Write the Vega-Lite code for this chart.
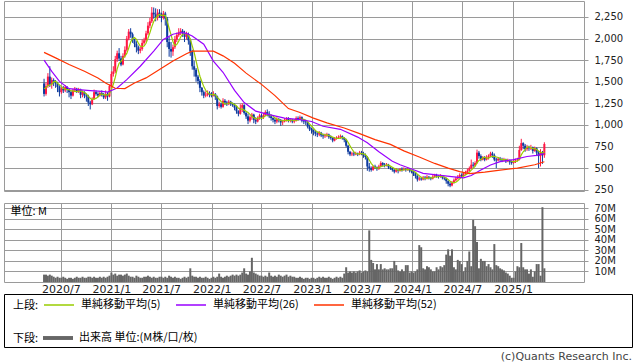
{
"$schema":"https://vega.github.io/schema/vega-lite/v6.json",
"padding":{"left":3,"top":0,"right":0,"bottom":0},
"bounds":"flush",
"spacing":12,
"datasets":{
"p":[
{"d":"2020-05-01","o":1480,"h":1535,"l":1330,"c":1360,"v":7,"m":1420},
{"d":"2020-05-08","o":1360,"h":1490,"l":1340,"c":1450,"v":7,"m":1430},
{"d":"2020-05-15","o":1450,"h":1600,"l":1430,"c":1560,"v":6,"m":1460},
{"d":"2020-05-22","o":1560,"h":1680,"l":1440,"c":1470,"v":7,"m":1460},
{"d":"2020-05-29","o":1470,"h":1550,"l":1420,"c":1520,"v":6,"m":1472},
{"d":"2020-06-05","o":1520,"h":1540,"l":1450,"c":1500,"v":5,"m":1500},
{"d":"2020-06-12","o":1500,"h":1520,"l":1430,"c":1480,"v":4,"m":1506},
{"d":"2020-06-19","o":1480,"h":1500,"l":1380,"c":1440,"v":5,"m":1482},
{"d":"2020-06-26","o":1440,"h":1460,"l":1330,"c":1380,"v":4,"m":1464},
{"d":"2020-07-03","o":1380,"h":1450,"l":1360,"c":1420,"v":4,"m":1444},
{"d":"2020-07-10","o":1420,"h":1450,"l":1370,"c":1400,"v":5,"m":1424},
{"d":"2020-07-17","o":1400,"h":1460,"l":1380,"c":1440,"v":4,"m":1416},
{"d":"2020-07-24","o":1440,"h":1450,"l":1370,"c":1410,"v":3,"m":1410},
{"d":"2020-07-31","o":1410,"h":1420,"l":1320,"c":1380,"v":4,"m":1410},
{"d":"2020-08-07","o":1380,"h":1400,"l":1300,"c":1340,"v":4,"m":1394},
{"d":"2020-08-14","o":1340,"h":1420,"l":1330,"c":1400,"v":3,"m":1394},
{"d":"2020-08-21","o":1400,"h":1440,"l":1380,"c":1420,"v":4,"m":1390},
{"d":"2020-08-28","o":1420,"h":1430,"l":1370,"c":1390,"v":5,"m":1386},
{"d":"2020-09-04","o":1390,"h":1430,"l":1370,"c":1410,"v":4,"m":1392},
{"d":"2020-09-11","o":1410,"h":1420,"l":1310,"c":1350,"v":4,"m":1394},
{"d":"2020-09-18","o":1350,"h":1400,"l":1320,"c":1380,"v":5,"m":1390},
{"d":"2020-09-25","o":1380,"h":1390,"l":1310,"c":1340,"v":4,"m":1374},
{"d":"2020-10-02","o":1340,"h":1360,"l":1270,"c":1330,"v":4,"m":1362},
{"d":"2020-10-09","o":1330,"h":1350,"l":1220,"c":1260,"v":5,"m":1332},
{"d":"2020-10-16","o":1260,"h":1280,"l":1180,"c":1240,"v":5,"m":1310},
{"d":"2020-10-23","o":1240,"h":1320,"l":1230,"c":1300,"v":4,"m":1294},
{"d":"2020-10-30","o":1300,"h":1410,"l":1290,"c":1380,"v":5,"m":1302},
{"d":"2020-11-06","o":1380,"h":1400,"l":1340,"c":1360,"v":4,"m":1308},
{"d":"2020-11-13","o":1360,"h":1380,"l":1320,"c":1340,"v":4,"m":1324},
{"d":"2020-11-20","o":1340,"h":1390,"l":1330,"c":1370,"v":5,"m":1350},
{"d":"2020-11-27","o":1370,"h":1400,"l":1330,"c":1350,"v":4,"m":1360},
{"d":"2020-12-04","o":1350,"h":1370,"l":1300,"c":1320,"v":5,"m":1348},
{"d":"2020-12-11","o":1320,"h":1400,"l":1300,"c":1360,"v":4,"m":1348},
{"d":"2020-12-18","o":1360,"h":1380,"l":1280,"c":1330,"v":5,"m":1346},
{"d":"2020-12-25","o":1330,"h":1470,"l":1320,"c":1450,"v":6,"m":1362},
{"d":"2021-01-01","o":1450,"h":1620,"l":1430,"c":1590,"v":9,"m":1410},
{"d":"2021-01-08","o":1590,"h":1680,"l":1560,"c":1620,"v":7,"m":1470},
{"d":"2021-01-15","o":1620,"h":1800,"l":1600,"c":1760,"v":8,"m":1550},
{"d":"2021-01-22","o":1760,"h":1860,"l":1730,"c":1830,"v":6,"m":1650},
{"d":"2021-01-29","o":1830,"h":1890,"l":1740,"c":1770,"v":7,"m":1714},
{"d":"2021-02-05","o":1770,"h":1800,"l":1680,"c":1700,"v":7,"m":1736},
{"d":"2021-02-12","o":1700,"h":1830,"l":1690,"c":1800,"v":6,"m":1772},
{"d":"2021-02-19","o":1800,"h":1910,"l":1780,"c":1870,"v":7,"m":1794},
{"d":"2021-02-26","o":1870,"h":2030,"l":1850,"c":2000,"v":8,"m":1828},
{"d":"2021-03-05","o":2000,"h":2110,"l":1980,"c":2080,"v":6,"m":1890},
{"d":"2021-03-12","o":2080,"h":2120,"l":2010,"c":2050,"v":5,"m":1960},
{"d":"2021-03-19","o":2050,"h":2070,"l":1950,"c":1990,"v":5,"m":1998},
{"d":"2021-03-26","o":1990,"h":2000,"l":1900,"c":1940,"v":4,"m":2012},
{"d":"2021-04-02","o":1940,"h":1970,"l":1840,"c":1900,"v":6,"m":1992},
{"d":"2021-04-09","o":1900,"h":1920,"l":1820,"c":1860,"v":5,"m":1948},
{"d":"2021-04-16","o":1860,"h":1910,"l":1830,"c":1880,"v":4,"m":1914},
{"d":"2021-04-23","o":1880,"h":1990,"l":1860,"c":1950,"v":4,"m":1906},
{"d":"2021-04-30","o":1950,"h":2010,"l":1930,"c":1980,"v":5,"m":1914},
{"d":"2021-05-07","o":1980,"h":2090,"l":1960,"c":2060,"v":5,"m":1946},
{"d":"2021-05-14","o":2060,"h":2190,"l":2040,"c":2150,"v":6,"m":2004},
{"d":"2021-05-21","o":2150,"h":2240,"l":2120,"c":2200,"v":5,"m":2068},
{"d":"2021-05-28","o":2200,"h":2365,"l":2180,"c":2300,"v":4,"m":2138},
{"d":"2021-06-04","o":2300,"h":2360,"l":2230,"c":2280,"v":5,"m":2198},
{"d":"2021-06-11","o":2280,"h":2350,"l":2200,"c":2240,"v":4,"m":2234},
{"d":"2021-06-18","o":2240,"h":2340,"l":2210,"c":2300,"v":4,"m":2264},
{"d":"2021-06-25","o":2300,"h":2340,"l":2240,"c":2280,"v":5,"m":2280},
{"d":"2021-07-02","o":2280,"h":2300,"l":2190,"c":2240,"v":5,"m":2268},
{"d":"2021-07-09","o":2240,"h":2320,"l":2220,"c":2290,"v":4,"m":2270},
{"d":"2021-07-16","o":2290,"h":2310,"l":2150,"c":2230,"v":5,"m":2268},
{"d":"2021-07-23","o":2230,"h":2250,"l":1900,"c":1960,"v":4,"m":2200},
{"d":"2021-07-30","o":1960,"h":2020,"l":1790,"c":1880,"v":6,"m":2120},
{"d":"2021-08-06","o":1880,"h":1960,"l":1780,"c":1850,"v":5,"m":2042},
{"d":"2021-08-13","o":1850,"h":1930,"l":1800,"c":1900,"v":4,"m":1964},
{"d":"2021-08-20","o":1900,"h":2030,"l":1880,"c":1990,"v":5,"m":1916},
{"d":"2021-08-27","o":1990,"h":2070,"l":1960,"c":2040,"v":4,"m":1932},
{"d":"2021-09-03","o":2040,"h":2120,"l":2020,"c":2070,"v":4,"m":1970},
{"d":"2021-09-10","o":2070,"h":2120,"l":2040,"c":2090,"v":3,"m":2018},
{"d":"2021-09-17","o":2090,"h":2110,"l":2020,"c":2060,"v":4,"m":2050},
{"d":"2021-09-24","o":2060,"h":2090,"l":1960,"c":2020,"v":5,"m":2056},
{"d":"2021-10-01","o":2020,"h":2080,"l":1990,"c":2050,"v":4,"m":2058},
{"d":"2021-10-08","o":2050,"h":2070,"l":1930,"c":1980,"v":5,"m":2040},
{"d":"2021-10-15","o":1980,"h":2000,"l":1800,"c":1850,"v":13,"m":1992},
{"d":"2021-10-22","o":1850,"h":1870,"l":1640,"c":1680,"v":6,"m":1916},
{"d":"2021-10-29","o":1680,"h":1740,"l":1560,"c":1640,"v":5,"m":1840},
{"d":"2021-11-05","o":1640,"h":1660,"l":1500,"c":1560,"v":5,"m":1742},
{"d":"2021-11-12","o":1560,"h":1580,"l":1470,"c":1510,"v":4,"m":1648},
{"d":"2021-11-19","o":1510,"h":1530,"l":1380,"c":1430,"v":5,"m":1564},
{"d":"2021-11-26","o":1430,"h":1440,"l":1340,"c":1380,"v":4,"m":1504},
{"d":"2021-12-03","o":1380,"h":1400,"l":1310,"c":1340,"v":4,"m":1444},
{"d":"2021-12-10","o":1340,"h":1390,"l":1320,"c":1350,"v":5,"m":1402},
{"d":"2021-12-17","o":1350,"h":1400,"l":1330,"c":1370,"v":4,"m":1374},
{"d":"2021-12-24","o":1370,"h":1390,"l":1320,"c":1350,"v":3,"m":1358},
{"d":"2021-12-31","o":1350,"h":1380,"l":1320,"c":1340,"v":4,"m":1350},
{"d":"2022-01-07","o":1340,"h":1390,"l":1330,"c":1360,"v":5,"m":1354},
{"d":"2022-01-14","o":1360,"h":1370,"l":1290,"c":1330,"v":4,"m":1350},
{"d":"2022-01-21","o":1330,"h":1340,"l":1180,"c":1220,"v":5,"m":1320},
{"d":"2022-01-28","o":1220,"h":1270,"l":1200,"c":1240,"v":8,"m":1298},
{"d":"2022-02-04","o":1240,"h":1260,"l":1190,"c":1210,"v":5,"m":1272},
{"d":"2022-02-11","o":1210,"h":1310,"l":1200,"c":1280,"v":4,"m":1256},
{"d":"2022-02-18","o":1280,"h":1300,"l":1230,"c":1260,"v":5,"m":1242},
{"d":"2022-02-25","o":1260,"h":1280,"l":1220,"c":1240,"v":6,"m":1246},
{"d":"2022-03-04","o":1240,"h":1290,"l":1230,"c":1270,"v":5,"m":1252},
{"d":"2022-03-11","o":1270,"h":1280,"l":1220,"c":1250,"v":6,"m":1260},
{"d":"2022-03-18","o":1250,"h":1260,"l":1210,"c":1230,"v":7,"m":1250},
{"d":"2022-03-25","o":1230,"h":1250,"l":1170,"c":1200,"v":6,"m":1238},
{"d":"2022-04-01","o":1200,"h":1220,"l":1130,"c":1160,"v":7,"m":1222},
{"d":"2022-04-08","o":1160,"h":1170,"l":1100,"c":1130,"v":6,"m":1194},
{"d":"2022-04-15","o":1130,"h":1240,"l":1120,"c":1200,"v":7,"m":1184},
{"d":"2022-04-22","o":1200,"h":1250,"l":1150,"c":1230,"v":9,"m":1184},
{"d":"2022-04-29","o":1230,"h":1240,"l":1120,"c":1140,"v":13,"m":1172},
{"d":"2022-05-06","o":1140,"h":1160,"l":1070,"c":1100,"v":8,"m":1160},
{"d":"2022-05-13","o":1100,"h":1130,"l":1010,"c":1050,"v":7,"m":1144},
{"d":"2022-05-20","o":1050,"h":1110,"l":1030,"c":1090,"v":10,"m":1122},
{"d":"2022-05-27","o":1090,"h":1140,"l":1060,"c":1120,"v":23,"m":1100},
{"d":"2022-06-03","o":1120,"h":1130,"l":1020,"c":1060,"v":9,"m":1084},
{"d":"2022-06-10","o":1060,"h":1090,"l":1010,"c":1040,"v":8,"m":1072},
{"d":"2022-06-17","o":1040,"h":1100,"l":1030,"c":1080,"v":7,"m":1078},
{"d":"2022-06-24","o":1080,"h":1130,"l":1060,"c":1110,"v":6,"m":1082},
{"d":"2022-07-01","o":1110,"h":1130,"l":1060,"c":1090,"v":6,"m":1076},
{"d":"2022-07-08","o":1090,"h":1140,"l":1070,"c":1110,"v":5,"m":1086},
{"d":"2022-07-15","o":1110,"h":1170,"l":1100,"c":1150,"v":6,"m":1108},
{"d":"2022-07-22","o":1150,"h":1180,"l":1100,"c":1130,"v":5,"m":1118},
{"d":"2022-07-29","o":1130,"h":1160,"l":1080,"c":1100,"v":9,"m":1116},
{"d":"2022-08-05","o":1100,"h":1120,"l":1050,"c":1080,"v":6,"m":1114},
{"d":"2022-08-12","o":1080,"h":1090,"l":1030,"c":1060,"v":5,"m":1104},
{"d":"2022-08-19","o":1060,"h":1080,"l":1010,"c":1040,"v":6,"m":1082},
{"d":"2022-08-26","o":1040,"h":1090,"l":1020,"c":1070,"v":5,"m":1070},
{"d":"2022-09-02","o":1070,"h":1080,"l":1030,"c":1060,"v":7,"m":1062},
{"d":"2022-09-09","o":1060,"h":1070,"l":990,"c":1030,"v":6,"m":1052},
{"d":"2022-09-16","o":1030,"h":1060,"l":1000,"c":1040,"v":5,"m":1048},
{"d":"2022-09-23","o":1040,"h":1080,"l":1030,"c":1060,"v":6,"m":1052},
{"d":"2022-09-30","o":1060,"h":1090,"l":1040,"c":1070,"v":7,"m":1052},
{"d":"2022-10-07","o":1070,"h":1090,"l":1030,"c":1050,"v":5,"m":1050},
{"d":"2022-10-14","o":1050,"h":1080,"l":1030,"c":1060,"v":6,"m":1056},
{"d":"2022-10-21","o":1060,"h":1070,"l":1020,"c":1040,"v":5,"m":1056},
{"d":"2022-10-28","o":1040,"h":1070,"l":1020,"c":1050,"v":5,"m":1054},
{"d":"2022-11-04","o":1050,"h":1100,"l":1040,"c":1080,"v":4,"m":1056},
{"d":"2022-11-11","o":1080,"h":1100,"l":1050,"c":1070,"v":4,"m":1060},
{"d":"2022-11-18","o":1070,"h":1110,"l":1060,"c":1090,"v":5,"m":1066},
{"d":"2022-11-25","o":1090,"h":1100,"l":1030,"c":1050,"v":4,"m":1068},
{"d":"2022-12-02","o":1050,"h":1070,"l":1010,"c":1040,"v":3,"m":1066},
{"d":"2022-12-09","o":1040,"h":1060,"l":1000,"c":1030,"v":4,"m":1056},
{"d":"2022-12-16","o":1030,"h":1040,"l":960,"c":980,"v":4,"m":1038},
{"d":"2022-12-23","o":980,"h":1000,"l":930,"c":950,"v":3,"m":1010},
{"d":"2022-12-30","o":950,"h":970,"l":900,"c":940,"v":4,"m":988},
{"d":"2023-01-06","o":940,"h":950,"l":880,"c":920,"v":4,"m":964},
{"d":"2023-01-13","o":920,"h":940,"l":870,"c":900,"v":3,"m":938},
{"d":"2023-01-20","o":900,"h":920,"l":860,"c":890,"v":4,"m":920},
{"d":"2023-01-27","o":890,"h":930,"l":870,"c":910,"v":5,"m":912},
{"d":"2023-02-03","o":910,"h":920,"l":860,"c":880,"v":4,"m":900},
{"d":"2023-02-10","o":880,"h":900,"l":840,"c":870,"v":5,"m":890},
{"d":"2023-02-17","o":870,"h":900,"l":850,"c":880,"v":4,"m":886},
{"d":"2023-02-24","o":880,"h":910,"l":860,"c":890,"v":4,"m":886},
{"d":"2023-03-03","o":890,"h":900,"l":840,"c":860,"v":5,"m":876},
{"d":"2023-03-10","o":860,"h":880,"l":830,"c":850,"v":4,"m":870},
{"d":"2023-03-17","o":850,"h":860,"l":800,"c":820,"v":3,"m":860},
{"d":"2023-03-24","o":820,"h":860,"l":810,"c":840,"v":4,"m":852},
{"d":"2023-03-31","o":840,"h":870,"l":830,"c":850,"v":5,"m":844},
{"d":"2023-04-07","o":850,"h":880,"l":840,"c":860,"v":4,"m":844},
{"d":"2023-04-14","o":860,"h":890,"l":840,"c":870,"v":5,"m":848},
{"d":"2023-04-21","o":870,"h":880,"l":830,"c":850,"v":4,"m":854},
{"d":"2023-04-28","o":850,"h":860,"l":800,"c":830,"v":8,"m":852},
{"d":"2023-05-05","o":830,"h":840,"l":740,"c":760,"v":14,"m":834},
{"d":"2023-05-12","o":760,"h":770,"l":660,"c":690,"v":9,"m":800},
{"d":"2023-05-19","o":690,"h":700,"l":640,"c":660,"v":10,"m":758},
{"d":"2023-05-26","o":660,"h":690,"l":640,"c":670,"v":9,"m":722},
{"d":"2023-06-02","o":670,"h":690,"l":640,"c":660,"v":10,"m":688},
{"d":"2023-06-09","o":660,"h":690,"l":650,"c":670,"v":9,"m":670},
{"d":"2023-06-16","o":670,"h":680,"l":640,"c":660,"v":10,"m":664},
{"d":"2023-06-23","o":660,"h":700,"l":650,"c":680,"v":11,"m":668},
{"d":"2023-06-30","o":680,"h":700,"l":650,"c":670,"v":9,"m":668},
{"d":"2023-07-07","o":670,"h":690,"l":620,"c":650,"v":10,"m":666},
{"d":"2023-07-14","o":650,"h":670,"l":600,"c":630,"v":11,"m":658},
{"d":"2023-07-21","o":630,"h":640,"l":470,"c":520,"v":10,"m":630},
{"d":"2023-07-28","o":520,"h":560,"l":460,"c":500,"v":49,"m":594},
{"d":"2023-08-04","o":500,"h":520,"l":460,"c":480,"v":21,"m":556},
{"d":"2023-08-11","o":480,"h":530,"l":470,"c":520,"v":18,"m":530},
{"d":"2023-08-18","o":520,"h":540,"l":490,"c":510,"v":12,"m":506},
{"d":"2023-08-25","o":510,"h":520,"l":470,"c":490,"v":17,"m":500},
{"d":"2023-09-01","o":490,"h":540,"l":480,"c":520,"v":12,"m":504},
{"d":"2023-09-08","o":520,"h":580,"l":510,"c":560,"v":17,"m":520},
{"d":"2023-09-15","o":560,"h":570,"l":520,"c":540,"v":12,"m":524},
{"d":"2023-09-22","o":540,"h":560,"l":510,"c":530,"v":13,"m":528},
{"d":"2023-09-29","o":530,"h":560,"l":520,"c":540,"v":12,"m":538},
{"d":"2023-10-06","o":540,"h":550,"l":490,"c":510,"v":12,"m":536},
{"d":"2023-10-13","o":510,"h":520,"l":480,"c":500,"v":13,"m":524},
{"d":"2023-10-20","o":500,"h":510,"l":460,"c":480,"v":13,"m":512},
{"d":"2023-10-27","o":480,"h":490,"l":440,"c":460,"v":20,"m":498},
{"d":"2023-11-03","o":460,"h":500,"l":450,"c":480,"v":16,"m":486},
{"d":"2023-11-10","o":480,"h":490,"l":440,"c":470,"v":11,"m":478},
{"d":"2023-11-17","o":470,"h":500,"l":460,"c":490,"v":10,"m":476},
{"d":"2023-11-24","o":490,"h":510,"l":460,"c":480,"v":12,"m":476},
{"d":"2023-12-01","o":480,"h":510,"l":470,"c":490,"v":10,"m":482},
{"d":"2023-12-08","o":490,"h":500,"l":460,"c":480,"v":16,"m":482},
{"d":"2023-12-15","o":480,"h":510,"l":470,"c":490,"v":16,"m":486},
{"d":"2023-12-22","o":490,"h":500,"l":450,"c":470,"v":9,"m":482},
{"d":"2023-12-29","o":470,"h":480,"l":440,"c":460,"v":10,"m":478},
{"d":"2024-01-05","o":460,"h":470,"l":410,"c":440,"v":9,"m":468},
{"d":"2024-01-12","o":440,"h":450,"l":380,"c":410,"v":10,"m":454},
{"d":"2024-01-19","o":410,"h":420,"l":345,"c":370,"v":12,"m":430},
{"d":"2024-01-26","o":370,"h":400,"l":355,"c":380,"v":35,"m":412},
{"d":"2024-02-02","o":380,"h":400,"l":355,"c":370,"v":33,"m":394},
{"d":"2024-02-09","o":370,"h":410,"l":360,"c":390,"v":13,"m":384},
{"d":"2024-02-16","o":390,"h":410,"l":360,"c":380,"v":12,"m":378},
{"d":"2024-02-23","o":380,"h":420,"l":370,"c":400,"v":15,"m":384},
{"d":"2024-03-01","o":400,"h":410,"l":370,"c":390,"v":14,"m":386},
{"d":"2024-03-08","o":390,"h":400,"l":360,"c":380,"v":12,"m":388},
{"d":"2024-03-15","o":380,"h":420,"l":370,"c":400,"v":10,"m":390},
{"d":"2024-03-22","o":400,"h":435,"l":390,"c":420,"v":10,"m":398},
{"d":"2024-03-29","o":420,"h":435,"l":390,"c":410,"v":14,"m":400},
{"d":"2024-04-05","o":410,"h":420,"l":380,"c":400,"v":12,"m":402},
{"d":"2024-04-12","o":400,"h":430,"l":390,"c":410,"v":15,"m":408},
{"d":"2024-04-19","o":410,"h":420,"l":370,"c":390,"v":14,"m":406},
{"d":"2024-04-26","o":390,"h":400,"l":360,"c":380,"v":16,"m":398},
{"d":"2024-05-03","o":380,"h":390,"l":320,"c":350,"v":26,"m":386},
{"d":"2024-05-10","o":350,"h":360,"l":290,"c":320,"v":31,"m":370},
{"d":"2024-05-17","o":320,"h":340,"l":280,"c":300,"v":25,"m":348},
{"d":"2024-05-24","o":300,"h":350,"l":290,"c":330,"v":31,"m":336},
{"d":"2024-05-31","o":330,"h":380,"l":320,"c":360,"v":14,"m":332},
{"d":"2024-06-07","o":360,"h":400,"l":350,"c":380,"v":12,"m":338},
{"d":"2024-06-14","o":380,"h":420,"l":370,"c":400,"v":21,"m":354},
{"d":"2024-06-21","o":400,"h":440,"l":390,"c":420,"v":20,"m":378},
{"d":"2024-06-28","o":420,"h":440,"l":390,"c":410,"v":17,"m":394},
{"d":"2024-07-05","o":410,"h":450,"l":400,"c":430,"v":10,"m":408},
{"d":"2024-07-12","o":430,"h":470,"l":420,"c":450,"v":14,"m":422},
{"d":"2024-07-19","o":450,"h":495,"l":440,"c":470,"v":20,"m":436},
{"d":"2024-07-26","o":470,"h":520,"l":460,"c":500,"v":29,"m":452},
{"d":"2024-08-02","o":500,"h":600,"l":490,"c":540,"v":15,"m":478},
{"d":"2024-08-09","o":540,"h":570,"l":500,"c":530,"v":59,"m":498},
{"d":"2024-08-16","o":530,"h":580,"l":520,"c":560,"v":53,"m":520},
{"d":"2024-08-23","o":560,"h":715,"l":550,"c":680,"v":38,"m":562},
{"d":"2024-08-30","o":680,"h":700,"l":610,"c":640,"v":13,"m":590},
{"d":"2024-09-06","o":640,"h":660,"l":580,"c":600,"v":22,"m":602},
{"d":"2024-09-13","o":600,"h":640,"l":590,"c":620,"v":20,"m":620},
{"d":"2024-09-20","o":620,"h":640,"l":580,"c":600,"v":20,"m":628},
{"d":"2024-09-27","o":600,"h":650,"l":590,"c":620,"v":15,"m":616},
{"d":"2024-10-04","o":620,"h":660,"l":600,"c":640,"v":17,"m":616},
{"d":"2024-10-11","o":640,"h":690,"l":630,"c":670,"v":14,"m":630},
{"d":"2024-10-18","o":670,"h":690,"l":620,"c":650,"v":12,"m":636},
{"d":"2024-10-25","o":650,"h":670,"l":580,"c":600,"v":36,"m":636},
{"d":"2024-11-01","o":600,"h":620,"l":500,"c":590,"v":16,"m":630},
{"d":"2024-11-08","o":590,"h":630,"l":580,"c":610,"v":15,"m":624},
{"d":"2024-11-15","o":610,"h":630,"l":580,"c":600,"v":13,"m":610},
{"d":"2024-11-22","o":600,"h":620,"l":570,"c":590,"v":12,"m":598},
{"d":"2024-11-29","o":590,"h":620,"l":580,"c":600,"v":11,"m":598},
{"d":"2024-12-06","o":600,"h":610,"l":560,"c":580,"v":9,"m":596},
{"d":"2024-12-13","o":580,"h":610,"l":570,"c":590,"v":8,"m":592},
{"d":"2024-12-20","o":590,"h":600,"l":540,"c":570,"v":6,"m":586},
{"d":"2024-12-27","o":570,"h":590,"l":540,"c":560,"v":4,"m":580},
{"d":"2025-01-03","o":560,"h":600,"l":550,"c":580,"v":4,"m":576},
{"d":"2025-01-10","o":580,"h":610,"l":560,"c":590,"v":10,"m":578},
{"d":"2025-01-17","o":590,"h":620,"l":580,"c":600,"v":15,"m":580},
{"d":"2025-01-24","o":600,"h":760,"l":590,"c":710,"v":14,"m":608},
{"d":"2025-01-31","o":710,"h":840,"l":700,"c":790,"v":37,"m":654},
{"d":"2025-02-07","o":790,"h":800,"l":720,"c":760,"v":14,"m":690},
{"d":"2025-02-14","o":760,"h":780,"l":690,"c":720,"v":12,"m":716},
{"d":"2025-02-21","o":720,"h":770,"l":700,"c":740,"v":12,"m":744},
{"d":"2025-02-28","o":740,"h":760,"l":700,"c":730,"v":8,"m":748},
{"d":"2025-03-07","o":730,"h":770,"l":710,"c":740,"v":12,"m":738},
{"d":"2025-03-14","o":740,"h":750,"l":670,"c":700,"v":5,"m":726},
{"d":"2025-03-21","o":700,"h":750,"l":690,"c":730,"v":10,"m":728},
{"d":"2025-03-28","o":730,"h":740,"l":640,"c":680,"v":17,"m":716},
{"d":"2025-04-04","o":680,"h":700,"l":500,"c":640,"v":17,"m":698},
{"d":"2025-04-11","o":640,"h":720,"l":520,"c":680,"v":6,"m":686},
{"d":"2025-04-18","o":680,"h":700,"l":550,"c":650,"v":71,"m":676},
{"d":"2025-04-25","o":650,"h":800,"l":620,"c":780,"v":13,"m":686}
],
"m26":[
{"d":"2020-05-01","y":1750},{"d":"2020-05-29","y":1620},{"d":"2020-06-26","y":1505},{"d":"2020-07-31","y":1420},
{"d":"2020-09-04","y":1410},{"d":"2020-10-16","y":1398},{"d":"2020-11-27","y":1388},{"d":"2020-12-18","y":1380},
{"d":"2021-01-22","y":1428},{"d":"2021-02-26","y":1525},{"d":"2021-04-16","y":1680},{"d":"2021-06-04","y":1855},
{"d":"2021-07-09","y":1990},{"d":"2021-08-13","y":2050},{"d":"2021-09-10","y":2070},{"d":"2021-10-01","y":2060},
{"d":"2021-10-22","y":2030},{"d":"2021-12-03","y":1935},{"d":"2022-01-07","y":1740},{"d":"2022-02-11","y":1610},
{"d":"2022-03-25","y":1400},{"d":"2022-04-29","y":1260},{"d":"2022-06-10","y":1160},{"d":"2022-07-29","y":1120},
{"d":"2022-09-23","y":1080},{"d":"2022-11-18","y":1062},{"d":"2022-12-30","y":1040},{"d":"2023-02-10","y":985},
{"d":"2023-04-14","y":950},{"d":"2023-06-16","y":860},{"d":"2023-07-21","y":795},{"d":"2023-09-01","y":690},
{"d":"2023-10-20","y":580},{"d":"2023-11-17","y":540},{"d":"2023-12-29","y":490},{"d":"2024-02-09","y":440},
{"d":"2024-04-05","y":420},{"d":"2024-05-31","y":400},{"d":"2024-07-05","y":388},{"d":"2024-08-02","y":415},
{"d":"2024-09-06","y":480},{"d":"2024-10-11","y":537},{"d":"2024-11-15","y":575},{"d":"2025-01-03","y":600},
{"d":"2025-02-21","y":635},{"d":"2025-03-28","y":648},{"d":"2025-04-25","y":670}
],
"m52":[
{"d":"2020-05-01","y":1840},{"d":"2020-06-12","y":1777},{"d":"2020-07-31","y":1700},{"d":"2020-09-25","y":1622},
{"d":"2020-11-13","y":1545},{"d":"2020-12-11","y":1486},{"d":"2021-01-15","y":1425},{"d":"2021-02-19","y":1421},
{"d":"2021-03-26","y":1486},{"d":"2021-05-07","y":1545},{"d":"2021-06-25","y":1642},{"d":"2021-08-13","y":1740},
{"d":"2021-10-01","y":1824},{"d":"2021-10-22","y":1855},{"d":"2022-01-07","y":1855},{"d":"2022-02-11","y":1800},
{"d":"2022-03-25","y":1715},{"d":"2022-05-06","y":1600},{"d":"2022-07-01","y":1470},{"d":"2022-08-19","y":1340},
{"d":"2022-10-07","y":1190},{"d":"2022-11-18","y":1145},{"d":"2023-01-06","y":1080},{"d":"2023-02-24","y":1025},
{"d":"2023-04-28","y":965},{"d":"2023-06-23","y":900},{"d":"2023-08-18","y":830},{"d":"2023-10-13","y":775},
{"d":"2023-12-01","y":700},{"d":"2024-01-26","y":630},{"d":"2024-03-22","y":555},{"d":"2024-05-10","y":500},
{"d":"2024-06-21","y":460},{"d":"2024-07-26","y":437},{"d":"2024-09-20","y":455},{"d":"2024-11-15","y":478},
{"d":"2025-01-17","y":500},{"d":"2025-03-21","y":540},{"d":"2025-04-25","y":575}
]
},
"vconcat":[
{
"width":580,"height":190,
"view":{"stroke":"#9a9a9a"},
"encoding":{"x":{"field":"d","type":"temporal","title":null,
 "scale":{"type":"utc","domain":[{"year":2019,"month":12,"date":25,"hours":12,"utc":true},{"year":2025,"month":8,"date":29,"utc":true}]},
 "axis":{"values":[{"year":2020,"month":7,"date":1,"utc":true},{"year":2021,"month":1,"date":1,"utc":true},{"year":2021,"month":7,"date":1,"utc":true},{"year":2022,"month":1,"date":1,"utc":true},{"year":2022,"month":7,"date":1,"utc":true},{"year":2023,"month":1,"date":1,"utc":true},{"year":2023,"month":7,"date":1,"utc":true},{"year":2024,"month":1,"date":1,"utc":true},{"year":2024,"month":7,"date":1,"utc":true},{"year":2025,"month":1,"date":1,"utc":true}],
  "grid":true,"labels":false,"ticks":false,"domain":false}}},
"layer":[
{"data":{"name":"p"},"mark":{"type":"rule","strokeWidth":1},
 "encoding":{"y":{"field":"l","type":"quantitative","title":null,"scale":{"domain":[236,2435],"nice":false,"zero":false},
   "axis":{"orient":"right","values":[250,500,750,1000,1250,1500,1750,2000,2250],"labelExpr":"format(datum.value, ',d')","labelOverlap":false,"grid":true,"ticks":true,"tickSize":4,"labelFontSize":10,"labelPadding":6}},
  "y2":{"field":"h"},
  "color":{"condition":{"test":"datum.c >= datum.o","value":"#ff1744"},"value":"#0d3a9e"}}},
{"data":{"name":"p"},"mark":{"type":"bar","size":2},
 "encoding":{"y":{"field":"o","type":"quantitative","title":null,"scale":{"domain":[236,2435],"nice":false,"zero":false},
   "axis":{"orient":"right","values":[250,500,750,1000,1250,1500,1750,2000,2250],"labelExpr":"format(datum.value, ',d')","labelOverlap":false,"grid":true,"ticks":true,"tickSize":4,"labelFontSize":10,"labelPadding":6}},
  "y2":{"field":"c"},
  "color":{"condition":{"test":"datum.c >= datum.o","value":"#ff1744"},"value":"#0d3a9e"}}},
{"data":{"name":"p"},"mark":{"type":"line","strokeWidth":1.2},
 "encoding":{"y":{"field":"m","type":"quantitative","title":null,"scale":{"domain":[236,2435],"nice":false,"zero":false},
   "axis":{"orient":"right","values":[250,500,750,1000,1250,1500,1750,2000,2250],"labelExpr":"format(datum.value, ',d')","labelOverlap":false,"grid":true,"ticks":true,"tickSize":4,"labelFontSize":10,"labelPadding":6}},
  "color":{"datum":"単純移動平均(5)","type":"nominal",
   "scale":{"domain":["単純移動平均(5)","単純移動平均(26)","単純移動平均(52)"],"range":["#99cc00","#9900ff","#ff3300"]},
   "legend":{"orient":"none","legendX":9,"legendY":288,"direction":"horizontal","title":"上段:","titleOrient":"left","titleAnchor":"middle","titleBaseline":"top","titlePadding":4,"symbolType":"stroke","symbolSize":900,"symbolStrokeWidth":1.5,"labelOffset":6,"columnPadding":12,"gridAlign":"each","padding":0}}}},
{"data":{"name":"m26"},"mark":{"type":"line","strokeWidth":1.2},
 "encoding":{"y":{"field":"y","type":"quantitative","title":null,"scale":{"domain":[236,2435],"nice":false,"zero":false},
   "axis":{"orient":"right","values":[250,500,750,1000,1250,1500,1750,2000,2250],"labelExpr":"format(datum.value, ',d')","labelOverlap":false,"grid":true,"ticks":true,"tickSize":4,"labelFontSize":10,"labelPadding":6}},
  "color":{"datum":"単純移動平均(26)","type":"nominal"}}},
{"data":{"name":"m52"},"mark":{"type":"line","strokeWidth":1.2},
 "encoding":{"y":{"field":"y","type":"quantitative","title":null,"scale":{"domain":[236,2435],"nice":false,"zero":false},
   "axis":{"orient":"right","values":[250,500,750,1000,1250,1500,1750,2000,2250],"labelExpr":"format(datum.value, ',d')","labelOverlap":false,"grid":true,"ticks":true,"tickSize":4,"labelFontSize":10,"labelPadding":6}},
  "color":{"datum":"単純移動平均(52)","type":"nominal"}}}
]
},
{
"width":580,"height":79,
"view":{"stroke":"#9a9a9a"},
"data":{"name":"p"},
"mark":{"type":"bar","size":2},
"encoding":{
 "x":{"field":"d","type":"temporal","title":null,
  "scale":{"type":"utc","domain":[{"year":2019,"month":12,"date":25,"hours":12,"utc":true},{"year":2025,"month":8,"date":29,"utc":true}]},
  "axis":{"values":[{"year":2020,"month":7,"date":1,"utc":true},{"year":2021,"month":1,"date":1,"utc":true},{"year":2021,"month":7,"date":1,"utc":true},{"year":2022,"month":1,"date":1,"utc":true},{"year":2022,"month":7,"date":1,"utc":true},{"year":2023,"month":1,"date":1,"utc":true},{"year":2023,"month":7,"date":1,"utc":true},{"year":2024,"month":1,"date":1,"utc":true},{"year":2024,"month":7,"date":1,"utc":true},{"year":2025,"month":1,"date":1,"utc":true}],
   "labelExpr":"utcFormat(datum.value, '%Y/%-m')","labelOverlap":false,"grid":true,"ticks":false,"domain":false,"labelFontSize":11,"labelPadding":1}},
 "y":{"field":"v","type":"quantitative","scale":{"domain":[0,75],"nice":false},
  "axis":{"orient":"right","values":[10,20,30,40,50,60,70],"labelExpr":"datum.value + 'M'","labelOverlap":false,"grid":true,"ticks":true,"tickSize":4,"labelFontSize":10,"labelPadding":6,
   "title":"単位: M","titleAngle":0,"titleX":-574,"titleY":8,"titleAlign":"left","titleBaseline":"middle","titleFontSize":11,"titleFontWeight":"normal","titleFont":"Noto Sans CJK JP","titleColor":"#000000"}},
 "color":{"datum":"出来高 単位:(M株/口/枚)","type":"nominal","scale":{"range":["#666666"]},
  "legend":{"orient":"none","legendX":9,"legendY":120,"direction":"horizontal","title":"下段:","titleOrient":"left","titleAnchor":"middle","titleBaseline":"top","titlePadding":4,"symbolType":"M-1,-0.13H1V0.13H-1Z","symbolSize":900,"symbolStrokeWidth":0,"labelOffset":6,"padding":0}}
}
},
{
"width":628,"height":53,
"view":{"stroke":"#000000"},
"title":{"text":"(c)Quants Research Inc.","orient":"bottom","anchor":"end","fontSize":11,"font":"DejaVu Sans","fontWeight":"normal","color":"#444444","offset":4},
"data":{"values":[{}]},
"mark":{"type":"text","text":""}
}
],
"resolve":{"scale":{"color":"independent"}},
"config":{
 "font":"DejaVu Sans",
 "axis":{"gridColor":"#9a9a9a","gridWidth":1,"domain":false,"tickColor":"#9a9a9a","labelColor":"#222222","labelFont":"DejaVu Sans","labelOverlap":false},
 "legend":{"labelFont":"Noto Sans CJK JP","titleFont":"Noto Sans CJK JP","labelFontSize":11,"titleFontSize":11,"titleFontWeight":"normal","labelColor":"#000000","titleColor":"#000000"}
}
}
